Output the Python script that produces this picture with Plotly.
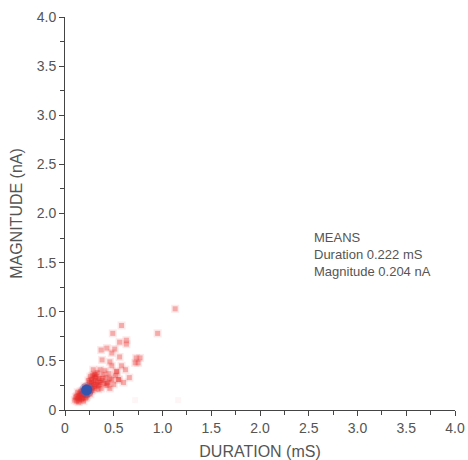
import plotly.graph_objects as go

duration = [0.10,0.12,0.13,0.15,0.11,0.14,0.16,0.18,0.17,0.19,0.20,0.22,0.21,0.24,0.23,0.25,0.26,0.27,0.28,0.25,
            0.29,0.30,0.31,0.27,0.24,0.32,0.30,0.33,0.28,0.35,0.36,0.34,0.38,0.37,0.40,0.42,0.39,0.44,0.45,0.46,
            0.48,0.50,0.41,0.36,0.52,0.55,0.43,0.53,0.62,0.48,0.38,0.46,0.48,0.43,0.37,0.51,0.56,0.63,0.63,0.49,
            0.58,0.77,0.75,0.95,1.13,0.29,0.26,0.31,0.20,0.18,0.16,0.22,0.19,0.14,0.58,0.60,0.66,0.56,0.73,0.72,
            0.53,0.31,0.38,0.46,0.55,0.43,0.27,0.12,0.15,0.17,0.13,0.21,0.23,0.26,0.28,0.32,0.34,0.30,0.33,0.35]
magnitude = [0.10,0.09,0.12,0.10,0.13,0.15,0.13,0.12,0.16,0.15,0.18,0.17,0.21,0.20,0.24,0.22,0.19,0.25,0.23,0.28,
             0.28,0.26,0.30,0.31,0.30,0.34,0.36,0.38,0.35,0.32,0.28,0.25,0.30,0.22,0.27,0.33,0.36,0.28,0.37,0.22,
             0.31,0.26,0.40,0.41,0.35,0.31,0.27,0.39,0.41,0.45,0.51,0.49,0.58,0.63,0.61,0.62,0.69,0.67,0.71,0.78,
             0.86,0.53,0.48,0.78,1.03,0.41,0.34,0.33,0.24,0.20,0.19,0.13,0.09,0.08,0.45,0.28,0.33,0.54,0.53,0.48,
             0.39,0.36,0.32,0.32,0.31,0.25,0.29,0.14,0.17,0.11,0.18,0.12,0.15,0.16,0.20,0.24,0.21,0.22,0.29,0.26]
faint_duration = [0.72, 1.16]
faint_magnitude = [0.10, 0.10]
mean_duration = [0.222]
mean_magnitude = [0.204]

tick_vals = [0, 0.5, 1.0, 1.5, 2.0, 2.5, 3.0, 3.5, 4.0]
tick_text = ["0", "0.5", "1.0", "1.5", "2.0", "2.5", "3.0", "3.5", "4.0"]

font_color = "#555555"
axis_color = "#444444"
font_family = "Liberation Sans, Arial"

fig = go.Figure()
# soft halo to mimic blur
fig.add_trace(go.Scatter(x=duration, y=magnitude, mode="markers",
                         marker=dict(symbol="square", size=8, color="rgba(235,40,35,0.10)", line=dict(width=0)),
                         hoverinfo="skip", showlegend=False))
fig.add_trace(go.Scatter(x=duration, y=magnitude, mode="markers",
                         marker=dict(symbol="square", size=5, color="rgba(230,30,25,0.30)", line=dict(width=0)),
                         showlegend=False))
fig.add_trace(go.Scatter(x=faint_duration, y=faint_magnitude, mode="markers",
                         marker=dict(symbol="square", size=6, color="rgba(230,30,25,0.04)", line=dict(width=0)),
                         showlegend=False))
fig.add_trace(go.Scatter(x=mean_duration, y=mean_magnitude, mode="markers",
                         marker=dict(symbol="circle", size=15, color="rgba(60,95,185,0.35)", line=dict(width=0)),
                         hoverinfo="skip", showlegend=False))
fig.add_trace(go.Scatter(x=mean_duration, y=mean_magnitude, mode="markers",
                         marker=dict(symbol="circle", size=11, color="rgb(50,85,175)", line=dict(width=0)),
                         showlegend=False))

axis_common = dict(range=[0, 4.0], tickvals=tick_vals, ticktext=tick_text, showgrid=False, zeroline=False,
                   showline=True, linecolor=axis_color, linewidth=1, ticks="outside", ticklen=5,
                   tickcolor=axis_color, tickwidth=1, automargin=False,
                   tickfont=dict(family=font_family, size=14, color=font_color),
                   minor=dict(dtick=0.25, ticks="outside", ticklen=4, tickcolor=axis_color, tickwidth=1, showgrid=False))

fig.update_xaxes(**axis_common,
                 title=dict(text="DURATION (mS)", font=dict(family=font_family, size=16, color=font_color), standoff=12))
fig.update_yaxes(**axis_common,
                 title=dict(text="MAGNITUDE (nA)", font=dict(family=font_family, size=16, color=font_color), standoff=10))

fig.add_annotation(x=2.53, y=1.85, xref="x", yref="y", xanchor="left", yanchor="top", showarrow=False, align="left",
                   text="MEANS<br>Duration 0.222 mS<br>Magnitude 0.204 nA",
                   font=dict(family=font_family, size=13, color=font_color))

fig.update_layout(width=468, height=460, margin=dict(l=65, r=13, t=17, b=50),
                  plot_bgcolor="white", paper_bgcolor="white")

# remove the default page margin so the figure fills the window exactly
fig.write_html("out.html", config={"displayModeBar": False},
               post_script="document.body.style.margin='0';document.body.style.overflow='hidden';")
